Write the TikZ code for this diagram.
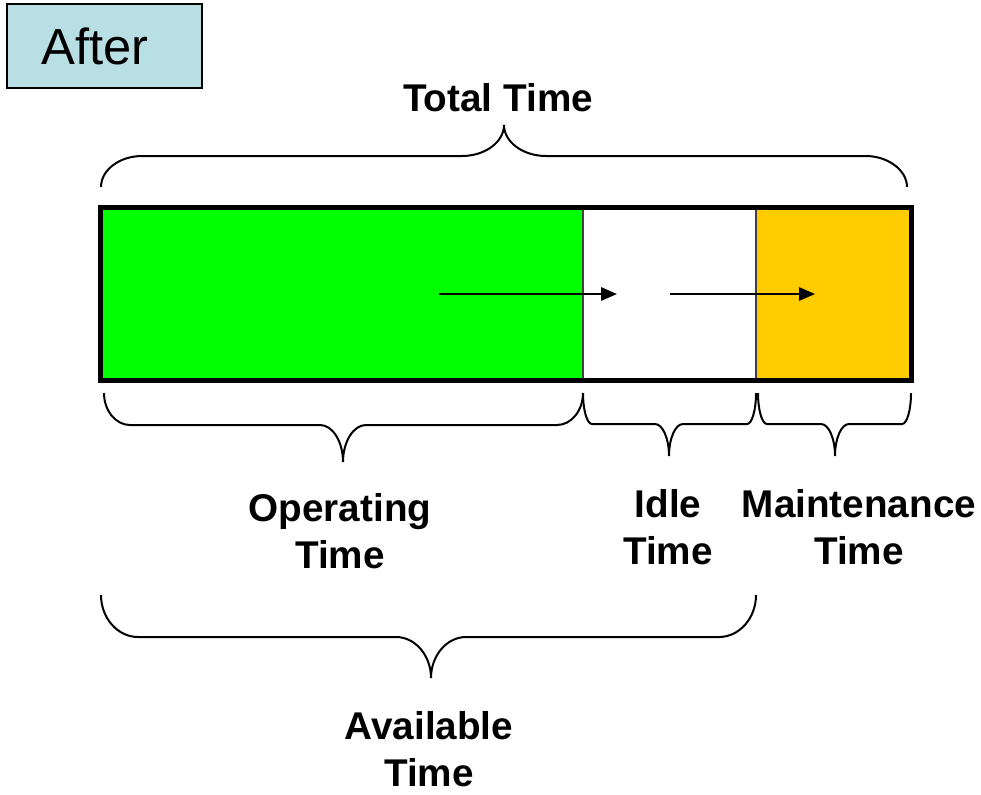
\documentclass[tikz,border=0pt]{standalone}
\usepackage{fontspec}
\setmainfont{Liberation Sans}
\usetikzlibrary{arrows.meta}
\definecolor{runGreen}{RGB}{0,255,0}
\definecolor{maintOrange}{RGB}{255,204,0}
\definecolor{afterBlue}{RGB}{184,223,228}
\tikzset{
  lbl/.style={align=center,inner sep=0.75pt,font=\fontsize{29}{35}\selectfont\bfseries},
  curly/.style={line width=1.5pt},
  flow/.style={line width=1.5pt,-{Triangle[length=12pt,width=10pt]}}
}

\begin{document}
\begin{tikzpicture}[x=0.75pt,y=0.75pt,yscale=-1,xscale=1]
	\useasboundingbox (0,0) rectangle (981,794);
	% after tag
	\draw [fill=afterBlue,line width=1.5pt] (7,4) rectangle (202,88);
	\draw (95,46) node [inner sep=0.75pt,font=\fontsize{38}{44}\selectfont] (tag) {After};

	% the time bar
	\fill [runGreen] (100,207) rectangle (583,380);
	\fill [white] (583,207) rectangle (756,380);
	\fill [maintOrange] (756,207) rectangle (911,380);
	\draw [line width=1.5pt,black!75] (583,207) -- (583,380) (756,207) -- (756,380);
	\draw [line width=3.75pt] (100,207) rectangle (911,380);

	\coordinate (runA) at (439,294);
	\coordinate (runB) at (617,294);
	\coordinate (idleA) at (670,294);
	\coordinate (idleB) at (815,294);
	\draw [flow] (runA) -- (runB);
	\draw [flow] (idleA) -- (idleB);

	% braces
	\draw [curly] (101,187) .. controls (101,170) and (119.5,156) .. (142,156) -- (462,156) .. controls (485,156) and (504,142) .. (504,125) .. controls (504,142) and (523,156) .. (546,156) -- (866,156) .. controls (887.5,156) and (907,170) .. (907,187) ;
	\draw [curly] (104,393) .. controls (104,410.6) and (115.7,425) .. (130,425) -- (320,425) .. controls (332.7,425) and (343,441.7) .. (343,462) .. controls (343,441.7) and (353.4,425) .. (366,425) -- (557,425) .. controls (571.3,425) and (583,410.6) .. (583,393) ;
	\draw [curly] (583,393) .. controls (583,410) and (587,424) .. (592,424) -- (655,424) .. controls (662.7,424) and (669,438.4) .. (669,456) .. controls (669,438.4) and (675.3,424) .. (683,424) -- (747,424) .. controls (752,424) and (756,410) .. (756,393) ;
	\draw [curly] (758,393) .. controls (758,410) and (762,424) .. (767,424) -- (821,424) .. controls (828.7,424) and (835,438.4) .. (835,456) .. controls (835,438.4) and (841.3,424) .. (849,424) -- (902,424) .. controls (907,424) and (911,410) .. (911,393) ;
	\draw [curly] (101,595) .. controls (101,618.1) and (117.7,637) .. (138,637) -- (396,637) .. controls (415.3,637) and (431,655.5) .. (431,678) .. controls (431,655.5) and (446.8,637) .. (466,637) -- (719,637) .. controls (739.4,637) and (756,618.1) .. (756,595) ;

	% labels
	\draw (498,98) node [lbl] (total) {Total Time};
	\draw (340,531) node [lbl] (optime) {Operating\\Time};
	\draw (668,527) node [lbl] (idle) {Idle\\Time};
	\draw (859,527) node [lbl] (maint) {Maintenance\\Time};
	\draw (429,749) node [lbl] (avail) {Available\\Time};
\end{tikzpicture}
\end{document}
